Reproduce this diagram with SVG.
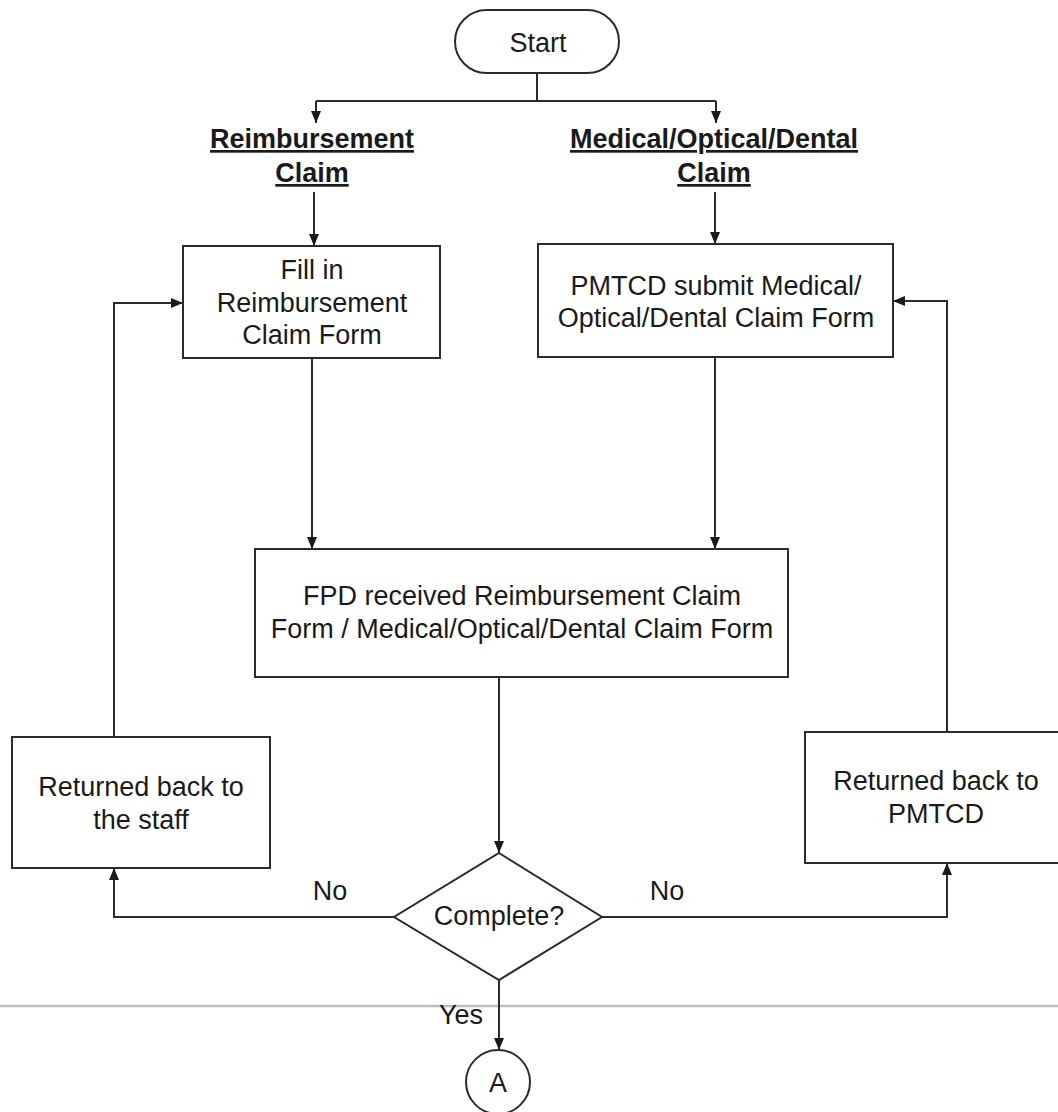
<svg xmlns="http://www.w3.org/2000/svg" width="1058" height="1112" viewBox="0 0 1058 1112">
<style>
.box{fill:#fff;stroke:#2b2b2b;stroke-width:2}
.ln{fill:none;stroke:#2b2b2b;stroke-width:2}
.t{font-family:"Liberation Sans",Arial,sans-serif;font-size:27px;fill:#1a1a1a;text-anchor:middle}
.h{font-family:"Liberation Sans",Arial,sans-serif;font-size:27px;font-weight:bold;fill:#1a1a1a;text-anchor:middle;text-decoration:underline}
</style>
<defs>
<marker id="arr" markerWidth="12" markerHeight="10" refX="12" refY="5" orient="auto" markerUnits="userSpaceOnUse">
<path d="M0,0 L12,5 L0,10 z" fill="#1a1a1a"/>
</marker>
</defs>
<rect width="1058" height="1112" fill="#fff"/>
<line x1="0" y1="1006" x2="1058" y2="1006" stroke="#bdbdbd" stroke-width="2.5"/>
<g id="connectors">
<path class="ln" d="M537,73 V101"/>
<path class="ln" d="M316,101 H716"/>
<path class="ln" d="M316,101 V123" marker-end="url(#arr)"/>
<path class="ln" d="M716,101 V123" marker-end="url(#arr)"/>
<path class="ln" d="M314,192 V246" marker-end="url(#arr)"/>
<path class="ln" d="M715,192 V244" marker-end="url(#arr)"/>
<path class="ln" d="M312,358 V549" marker-end="url(#arr)"/>
<path class="ln" d="M715,357 V549" marker-end="url(#arr)"/>
<path class="ln" d="M499,677 V853" marker-end="url(#arr)"/>
<path class="ln" d="M394,917 H114 V868" marker-end="url(#arr)"/>
<path class="ln" d="M602,917 H947 V863" marker-end="url(#arr)"/>
<path class="ln" d="M114,737 V303 H183" marker-end="url(#arr)"/>
<path class="ln" d="M947,732 V301 H893" marker-end="url(#arr)"/>
<path class="ln" d="M499,980 V1050" marker-end="url(#arr)"/>
<text class="t" x="330" y="900">No</text>
<text class="t" x="667" y="900">No</text>
<text class="t" x="461" y="1024">Yes</text>
</g>
<g id="start">
<rect class="box" x="455" y="10" width="164" height="63" rx="31.5"/>
<text class="t" x="538" y="52">Start</text>
</g>
<g id="label-reimb">
<text class="h" x="312" y="148">Reimbursement</text>
<text class="h" x="312" y="182">Claim</text>
</g>
<g id="label-medical">
<text class="h" x="714" y="148">Medical/Optical/Dental</text>
<text class="h" x="714" y="182">Claim</text>
</g>
<g id="fill-in">
<rect class="box" x="183" y="246" width="257" height="112"/>
<text class="t" x="312" y="279">Fill in</text>
<text class="t" x="312" y="312">Reimbursement</text>
<text class="t" x="312" y="344">Claim Form</text>
</g>
<g id="pmtcd-submit">
<rect class="box" x="538" y="244" width="355" height="113"/>
<text class="t" x="716" y="295">PMTCD submit Medical/</text>
<text class="t" x="716" y="327">Optical/Dental Claim Form</text>
</g>
<g id="fpd-received">
<rect class="box" x="255" y="549" width="533" height="128"/>
<text class="t" x="522" y="605">FPD received Reimbursement Claim</text>
<text class="t" x="522" y="638">Form / Medical/Optical/Dental Claim Form</text>
</g>
<g id="complete">
<polygon class="box" points="499,853 602,917 499,980 394,917"/>
<text class="t" x="499" y="925">Complete?</text>
</g>
<g id="return-staff">
<rect class="box" x="12" y="737" width="258" height="131"/>
<text class="t" x="141" y="796">Returned back to</text>
<text class="t" x="141" y="829">the staff</text>
</g>
<g id="return-pmtcd">
<rect class="box" x="805" y="732" width="262" height="131"/>
<text class="t" x="936" y="790">Returned back to</text>
<text class="t" x="936" y="823">PMTCD</text>
</g>
<g id="connector-a">
<circle class="box" cx="498" cy="1082" r="32"/>
<text class="t" x="498" y="1092">A</text>
</g>
</svg>
